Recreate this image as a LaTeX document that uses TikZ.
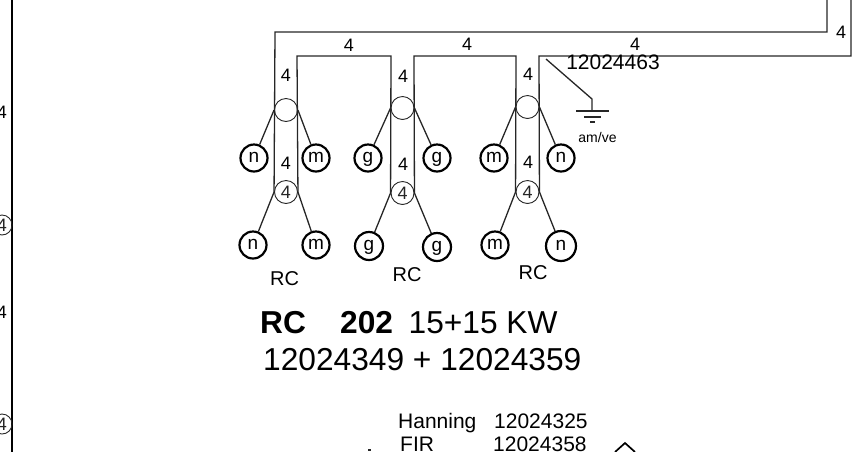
\documentclass[tikz,border=0pt]{standalone}
\usepackage{fontspec}
\setmainfont{Liberation Sans}
\usepackage{tikz}

\tikzset{
  wire/.style={draw,line width=1.3pt,black!85},
  hub/.style={circle,draw,line width=.9pt,black!85,inner sep=0pt,minimum size=23pt,font=\fontsize{18}{18}\selectfont},
  term/.style={circle,draw,line width=2.2pt,inner sep=0pt,minimum size=27pt,text height=9pt,text depth=0pt,font=\fontsize{19}{19}\selectfont},
  num/.style={inner sep=0pt,font=\fontsize{18}{18}\selectfont},
  lab/.style={inner sep=0pt,font=\fontsize{20}{20}\selectfont},
  big/.style={inner sep=0pt,anchor=base west,font=\fontsize{31.7}{31.7}\selectfont},
  list/.style={inner sep=0pt,anchor=base west,font=\fontsize{21}{21}\selectfont}
}

\begin{document}
\begin{tikzpicture}[x=1pt,y=-1pt]
      \useasboundingbox (0,0) rectangle (859,451);
      % bus corners
      \coordinate (outA) at (275,32);
      \coordinate (outB) at (827,32);
      \coordinate (outC) at (827,-2);
      \coordinate (inA) at (297,56);
      \coordinate (inB) at (391,56);
      \coordinate (inC) at (414,56);
      \coordinate (inD) at (516,56);
      \coordinate (inE) at (539,56);
      \coordinate (inF) at (851,56);
      \coordinate (inG) at (851,-2);
      \coordinate (edgeT) at (12,-2);
      \coordinate (edgeB) at (12,453);
      % hubs
      \node (hubA) [hub] at (286,110) {};
      \node (hubB) [hub] at (402.5,108) {};
      \node (hubC) [hub] at (527.5,107) {};
      \node (subA) [hub] at (286,192) {4};
      \node (subB) [hub] at (402.5,193) {4};
      \node (subC) [hub] at (527.5,192) {4};
      % terminals
      \node (nA) [term] at (254,158) {n};
      \node (mA) [term] at (316,158) {m};
      \node (gB) [term] at (368,158) {g};
      \node (hB) [term] at (437,158) {g};
      \node (mC) [term] at (494,158) {m};
      \node (nC) [term] at (561,158) {n};
      \node (nD) [term] at (253,245) {n};
      \node (mD) [term] at (316,245) {m};
      \node (gE) [term,minimum size=28pt] at (369,246) {g};
      \node (hE) [term,minimum size=28pt] at (437,247) {g};
      \node (mF) [term] at (495,245) {m};
      \node (nF) [term,minimum size=30pt] at (561,246) {n};
      % wires
      \draw [wire] (outC) -- (outB) -- (outA) -- (subA.west);
      \draw [wire] (subA.east) -- (inA) -- (inB) -- (subB.west);
      \draw [wire] (subB.east) -- (inC) -- (inD) -- (subC.west);
      \draw [wire] (subC.east) -- (inE) -- (inF) -- (inG);
      \draw [wire] (hubA.west) -- (nA);
      \draw [wire] (hubA.east) -- (mA);
      \draw [wire] (hubB.west) -- (gB);
      \draw [wire] (hubB.east) -- (hB);
      \draw [wire] (hubC.west) -- (mC);
      \draw [wire] (hubC.east) -- (nC);
      \draw [wire] (subA.west) -- (nD);
      \draw [wire] (subA.east) -- (mD);
      \draw [wire] (subB.west) -- (gE);
      \draw [wire] (subB.east) -- (hE);
      \draw [wire] (subC.west) -- (mF);
      \draw [wire] (subC.east) -- (nF);
      \draw [wire,black,line width=1.5pt] (edgeT) -- (edgeB);
      % earth
      \coordinate (earthT) at (546,59);
      \coordinate (earthK) at (592,99);
      \coordinate (earthB) at (592,111);
      \draw [wire] (earthT) -- (earthK) -- (earthB);
      \draw [wire] (576,111) -- (609,111);
      \draw [wire] (584,117) -- (601,117);
      \draw [wire] (590,122) -- (595,122);
      \node (earth) [inner sep=0pt,font=\fontsize{14}{14}\selectfont] at (597.5,137) {am/ve};
      % wire counts
      \node (c1) [num] at (349,45) {4};
      \node (c2) [num] at (467,44) {4};
      \node (c3) [num] at (635,44) {4};
      \node (c4) [num] at (841,32) {4};
      \node (c5) [num] at (286,75) {4};
      \node (c6) [num] at (403,76) {4};
      \node (c7) [num] at (528,74) {4};
      \node (c8) [num] at (286,163) {4};
      \node (c9) [num] at (403,164) {4};
      \node (c10) [num] at (528,162) {4};
      \node (part) [inner sep=0pt,font=\fontsize{21}{21}\selectfont] at (613,62) {12024463};
      % left margin
      \node (l1) [num] at (2,112) {4};
      \node (l2) [hub,minimum size=20pt] at (2,225) {4};
      \node (l3) [num] at (2,312) {4};
      \node (l4) [hub,minimum size=20pt] at (2,424) {4};
      % names
      \node (rcA) [lab] at (284.5,279) {RC};
      \node (rcB) [lab] at (407,275) {RC};
      \node (rcC) [lab] at (533,273) {RC};
      \node (t1) [big] at (260,333) {\bfseries RC};
      \node (t2) [big] at (340,333) {\bfseries 202};
      \node (t3) [big] at (408.5,333) {15+15 KW};
      \node (t4) [big] at (263,370) {12024349 + 12024359};
      \node (b1) [list] at (398,428) {Hanning};
      \node (b2) [list] at (494,428) {12024325};
      \node (b3) [list] at (400,451) {FIR};
      \node (b4) [list] at (493,451) {12024358};
      % bottom marks
      \coordinate (chevL) at (615,452);
      \coordinate (chevT) at (625,443);
      \coordinate (chevR) at (635,452);
      \draw [wire,black,line width=1.7pt] (chevL) -- (chevT) -- (chevR);
      \draw [wire] (368,450) -- (371,450);
      \end{tikzpicture}
\end{document}
